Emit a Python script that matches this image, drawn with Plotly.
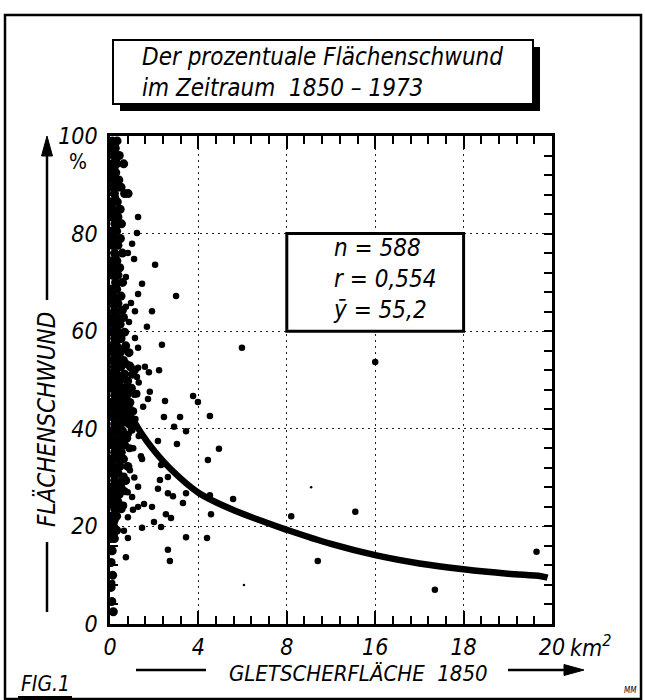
import plotly.graph_objects as go

# ---------------- data ----------------
# dense stripe of small glaciers along the left axis
band_y = [99, 99, 97.5, 97.5, 96, 96, 94.3, 94.3, 94.3, 92.5, 92.5, 91, 91,
          89.5, 89.5, 89.5, 88.2, 88.2, 88.2, 86.5, 86.5, 85, 85, 83.4, 83.4,
          82, 82, 80.5, 80.5, 79, 79, 77.6, 77.6, 76, 76, 74.4, 74.4, 73, 73,
          71.5, 71.5, 70, 70, 68.6, 68.6, 67.2, 67.2, 65.7, 65.7, 64.3, 64.3,
          62.8, 62.8, 62.8, 61.4, 61.4, 59.8, 59.8, 59.8, 58.5, 58.5,
          57, 57, 57, 55.6, 55.6, 55.6, 54, 54, 54, 52.7, 52.7, 52.7,
          51.2, 51.2, 51.2, 51.2, 49.8, 49.8, 49.8, 48.3, 48.3, 48.3, 48.3,
          46.9, 46.9, 46.9, 45.4, 45.4, 45.4, 45.4, 44, 44, 44,
          42.5, 42.5, 42.5, 41, 41, 41, 39.6, 39.6, 39.6, 38.1, 38.1, 38.1,
          36.7, 36.7, 36.7, 35.2, 35.2, 33.8, 33.8, 33.8, 32.3, 32.3, 32.3,
          30.9, 30.9, 29.4, 29.4, 29.4, 28, 28, 28, 26.5, 26.5, 25, 25,
          23.6, 23.6, 22.1, 22.1, 20.7, 19.2, 19.2, 17.5, 17.5, 15, 12.6,
          10, 7.5, 4.6, 2.5]
band_x = [0.10, 0.32, 0.04, 0.24, 0.16, 0.42, 0.08, 0.30, 0.62, 0.03, 0.26, 0.15, 0.40,
          0.09, 0.31, 0.50, 0.20, 0.66, 0.82, 0.05, 0.33, 0.14, 0.46, 0.10, 0.36,
          0.22, 0.52, 0.05, 0.30, 0.16, 0.47, 0.09, 0.36, 0.21, 0.56, 0.04, 0.31, 0.15, 0.44,
          0.11, 0.36, 0.25, 0.57, 0.05, 0.30, 0.16, 0.50, 0.09, 0.36, 0.21, 0.56,
          0.05, 0.31, 0.61, 0.15, 0.46, 0.10, 0.36, 0.66, 0.21, 0.50,
          0.05, 0.30, 0.71, 0.15, 0.46, 0.86, 0.10, 0.36, 0.61, 0.20, 0.50, 0.92,
          0.05, 0.31, 0.66, 1.02, 0.15, 0.45, 0.80, 0.10, 0.36, 0.61, 0.97,
          0.21, 0.51, 0.76, 0.04, 0.30, 0.60, 0.90, 0.16, 0.46, 0.71,
          0.10, 0.35, 0.62, 0.21, 0.50, 0.86, 0.05, 0.31, 0.56, 0.15, 0.46, 0.76,
          0.10, 0.40, 0.66, 0.21, 0.51, 0.05, 0.30, 0.61, 0.15, 0.45, 0.81,
          0.10, 0.36, 0.21, 0.56, 0.71, 0.05, 0.31, 0.50, 0.15, 0.41, 0.10, 0.36,
          0.21, 0.51, 0.05, 0.30, 0.15, 0.10, 0.30, 0.05, 0.20, 0.10, 0.05,
          0.12, 0.05, 0.08, 0.15]
# further stripe glaciers lying between the rows above
core_y = [98.2, 95.1, 93.4, 90.2, 87.3, 84.2, 81.2, 78.3, 75.2, 72.2, 69.3, 66.4,
          63.5, 60.6, 57.7, 56.2, 54.8, 53.3, 51.9, 50.4, 49.0, 47.6, 46.1, 44.7,
          43.2, 41.8, 40.3, 38.9, 37.4, 34.5, 31.6, 28.7, 25.8, 24.3, 21.4, 18.4,
          52.0, 47.2, 43.6, 39.8, 36.0, 30.2, 27.2]
core_x = [0.22, 0.28, 0.20, 0.26, 0.24, 0.18, 0.27, 0.22, 0.25, 0.19, 0.28, 0.23,
          0.26, 0.20, 0.28, 0.55, 0.22, 0.74, 0.26, 0.52, 0.21, 0.84, 0.27, 0.58,
          0.20, 0.74, 0.25, 0.64, 0.22, 0.26, 0.23, 0.27, 0.24, 0.60, 0.22, 0.18,
          1.12, 1.20, 1.05, 0.98, 0.88, 0.62, 0.66]

# individual glaciers away from the stripe
pts_x = [1.27, 1.22, 1.00, 0.81, 1.09, 2.04, 0.72, 1.45, 1.27, 2.99, 0.95, 0.72, 1.13,
         1.90, 0.86, 1.67, 1.13, 2.35, 1.27, 5.97, 0.90, 1.58, 2.22, 1.76, 1.27, 1.22,
         1.80, 3.76, 3.98, 2.49, 1.72, 2.44, 3.17, 4.52, 2.90, 3.44, 2.17, 3.03, 4.93,
         4.43, 1.40, 1.45, 2.31, 2.62, 2.26, 1.27, 2.17, 2.62, 2.85, 3.44, 4.52, 5.57,
         3.30, 1.54, 1.90, 1.27, 1.04, 2.53, 2.76, 4.57, 0.81, 1.99, 2.31, 1.45, 0.63,
         3.44, 4.39, 0.81, 2.62, 2.71, 0.72, 0.10, 8.2, 11.1, 9.4, 14.7, 19.3, 12.0,
         0.95, 1.15, 0.85, 1.05, 0.90, 1.10, 0.80, 1.00, 0.70, 1.30, 1.10, 1.50, 1.30,
         1.00, 0.75]
pts_y = [83.4, 80.1, 77.9, 76.0, 74.8, 73.6, 71.1, 69.7, 67.6, 67.2, 65.8, 65.0, 64.1,
         64.1, 61.9, 60.9, 58.6, 57.2, 56.6, 56.6, 53.1, 52.7, 52.0, 51.6, 52.5, 50.6,
         47.6, 46.7, 45.5, 45.7, 46.1, 42.4, 42.4, 42.6, 40.4, 39.5, 37.5, 36.9, 35.9,
         33.6, 34.4, 33.8, 32.6, 30.1, 29.5, 28.1, 27.7, 26.8, 26.2, 26.8, 26.4, 25.6,
         24.8, 24.6, 24.0, 24.0, 23.4, 22.5, 21.7, 22.5, 21.9, 20.9, 19.9, 19.7, 19.1,
         17.8, 17.6, 17.6, 15.2, 12.9, 13.7, 8.4, 22.1, 23.0, 12.9, 7.0, 14.8, 53.7,
         44.0, 42.0, 39.0, 36.0, 31.5, 30.0, 27.0, 26.0, 48.5, 49.5, 47.0, 44.5, 38.5,
         40.8, 43.0]
tiny_x = [9.1, 6.06]
tiny_y = [28.0, 8.0]

# regression curve
curve_x = [0.35, 0.6, 0.9, 1.4, 2.0, 2.8, 4.0, 5.5, 7.0, 8.0, 10.0, 12.0, 14.0, 16.0, 18.0, 19.5, 19.8]
curve_y = [48.5, 45.8, 43.0, 39.2, 35.5, 31.5, 26.9, 23.5, 20.9, 19.3, 16.4, 14.1, 12.4, 11.2, 10.3, 9.8, 9.5]

x_tickvals = [0, 4, 8, 12, 16, 20]
x_ticktext = ["0", "4", "8", "16", "18", "20"]
y_tickvals = [0, 20, 40, 60, 80, 100]
y_ticktext = ["0", "20", "40", "60", "80", "100"]
stats_lines = ["n = 588", "r = 0,554", "ȳ = 55,2"]
title_lines = ["Der prozentuale Flächenschwund", "im Zeitraum  1850 – 1973"]

# ---------------- figure ----------------
FONT = "DejaVu Sans Condensed, Liberation Sans Narrow, DejaVu Sans, sans-serif"
W, H = 645, 700
L, R, T, B = 110, 93, 136, 76
PW, PH = W - L - R, H - T - B


def px(x):
    return (x - L) / PW


def py(y):
    return (H - B - y) / PH


fig = go.Figure()
fig.add_trace(go.Scatter(x=band_x, y=band_y, mode="markers",
                         marker=dict(color="black", size=9), hoverinfo="skip"))
fig.add_trace(go.Scatter(x=core_x, y=core_y, mode="markers",
                         marker=dict(color="black", size=8), hoverinfo="skip"))
fig.add_trace(go.Scatter(x=pts_x, y=pts_y, mode="markers",
                         marker=dict(color="black", size=6.5), hoverinfo="skip"))
fig.add_trace(go.Scatter(x=tiny_x, y=tiny_y, mode="markers",
                         marker=dict(color="black", size=2.5), hoverinfo="skip"))
fig.add_trace(go.Scatter(x=curve_x, y=curve_y, mode="lines",
                         line=dict(color="black", width=6.5, shape="spline", smoothing=1.0),
                         hoverinfo="skip"))

axis_common = dict(
    showline=True, linecolor="black", linewidth=2.5, mirror="allticks",
    ticks="inside", tickcolor="black", tickwidth=2,
    showgrid=True, gridcolor="#222", gridwidth=1.3, griddash="1.5px,4.5px",
    zeroline=False,
    tickfont=dict(family=FONT, size=23, color="black", style="italic"),
)
fig.update_xaxes(range=[0, 20], tickmode="array", tickvals=x_tickvals, ticktext=x_ticktext,
                 ticklen=13, minor=dict(dtick=0.8, tick0=0, ticklen=8, ticks="inside",
                                        tickcolor="black", tickwidth=2, showgrid=False),
                 ticklabelstandoff=1, **axis_common)
fig.update_yaxes(range=[0, 100], tickmode="array", tickvals=y_tickvals, ticktext=y_ticktext,
                 ticklen=8, minor=dict(dtick=4, tick0=0, ticklen=8, ticks="inside",
                                       tickcolor="black", tickwidth=2, showgrid=False),
                 ticklabelstandoff=5, **axis_common)


def pline(x0, y0, x1, y1, w=2.5):
    return dict(type="line", xref="paper", yref="paper", x0=px(x0), x1=px(x1), y0=py(y0), y1=py(y1),
                line=dict(color="black", width=w), layer="above")


def tri(pts):
    d = "M " + " L ".join(f"{px(a)},{py(b)}" for a, b in pts) + " Z"
    return dict(type="path", xref="paper", yref="paper", path=d, fillcolor="black",
                line=dict(color="black", width=1), layer="above")


shapes = []
# outer frame
shapes.append(dict(type="rect", xref="paper", yref="paper", x0=px(5), x1=px(641), y0=py(699), y1=py(15),
                   line=dict(color="black", width=2.5), layer="above"))
# title box with shadow
shapes.append(dict(type="rect", xref="paper", yref="paper", x0=px(120), x1=px(540), y0=py(111), y1=py(47),
                   line=dict(width=0), fillcolor="black", layer="above"))
shapes.append(dict(type="rect", xref="paper", yref="paper", x0=px(113), x1=px(533), y0=py(104), y1=py(40),
                   line=dict(color="black", width=2), fillcolor="white", layer="above"))
# statistics box (spans grid cells)
shapes.append(dict(type="rect", xref="x", yref="y", x0=8, x1=16, y0=60, y1=80,
                   line=dict(color="black", width=3), fillcolor="white", layer="above"))
# y-title lines and arrow
shapes.append(pline(47, 612, 47, 542))
shapes.append(pline(47, 300, 47, 152))
shapes.append(tri([(47, 136), (41.5, 156), (52.5, 156)]))
# x-title lines and arrow
shapes.append(pline(136, 670, 206, 670))
shapes.append(pline(508, 670, 566, 670))
shapes.append(tri([(584, 670), (564, 664.5), (564, 675.5)]))
# FIG.1 underline
shapes.append(pline(18, 697, 72, 697, 2))
fig.update_layout(shapes=shapes)

ann = []


def note(x, y, text, size, italic=True, xa="center", ya="middle", align="center", angle=0):
    ann.append(dict(xref="paper", yref="paper", x=px(x), y=py(y), xanchor=xa, yanchor=ya,
                    align=align, showarrow=False, text=text, textangle=angle,
                    font=dict(family=FONT, size=size, color="black",
                              style="italic" if italic else "normal")))


note(140, 72, "<br>".join(title_lines), 24, xa="left", align="left")
ann.append(dict(xref="x", yref="y", x=10.0, y=70.6, xanchor="left", yanchor="middle",
                align="left", showarrow=False, text="<br>".join(stats_lines),
                font=dict(family=FONT, size=24, color="black", style="italic")))
note(46, 420, "FLÄCHENSCHWUND", 24, angle=-90)
note(78, 162, "%", 21, italic=False)
note(358, 673, "GLETSCHERFLÄCHE  1850", 22)
note(590, 646, "km<sup>2</sup>", 23)
note(45, 684, "FIG.1", 21)
note(630, 690, "MM", 8)
fig.update_layout(annotations=ann)

fig.update_layout(width=W, height=H, autosize=False,
                  margin=dict(l=L, r=R, t=T, b=B, pad=0),
                  paper_bgcolor="white", plot_bgcolor="white", showlegend=False,
                  font=dict(family=FONT, color="black"))

fig.write_html("out.html", config={"displayModeBar": False},
               post_script="document.body.style.margin='0';")
